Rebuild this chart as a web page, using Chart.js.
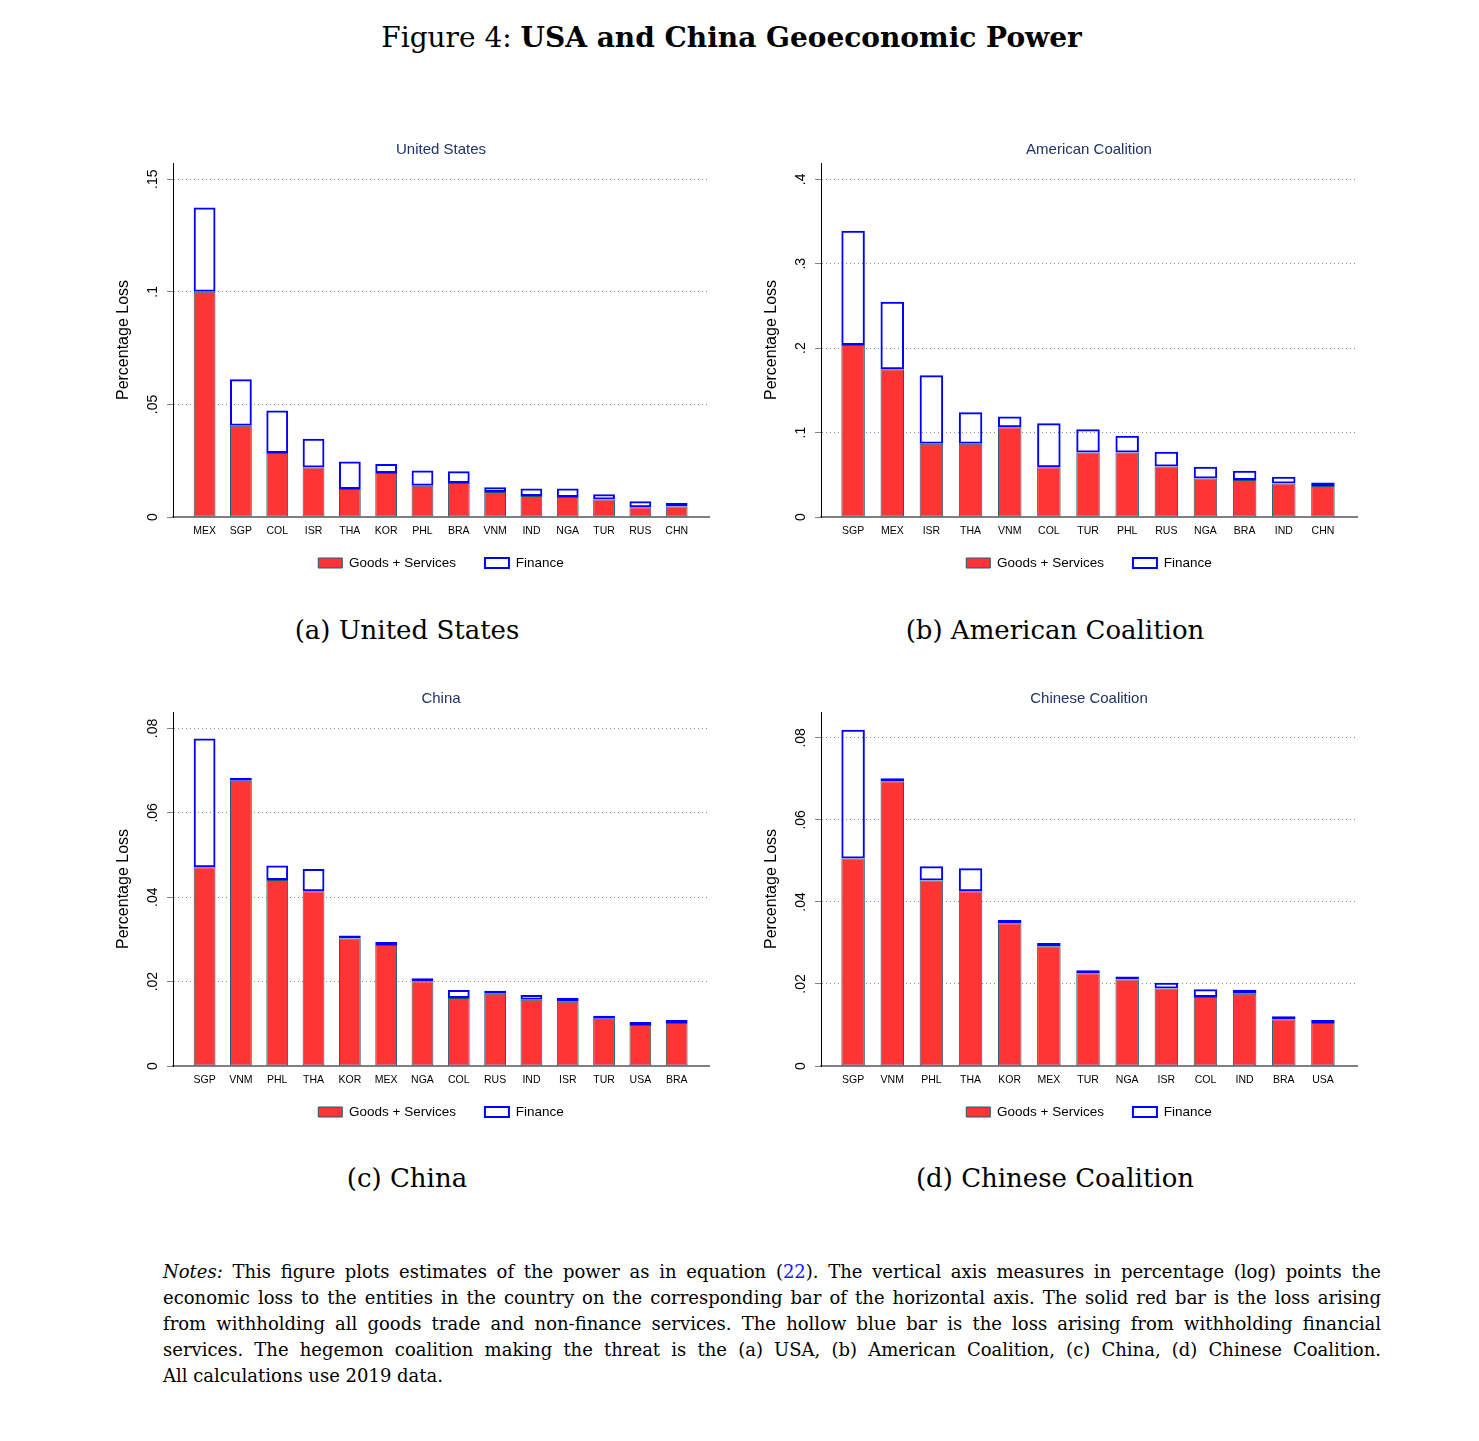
<!DOCTYPE html>
<html>
<head>
<meta charset="utf-8">
<title>USA and China Geoeconomic Power</title>
<script src="https://cdn.jsdelivr.net/npm/chart.js@4.4.1/dist/chart.umd.min.js"></script>
<style>
  body { margin: 0; background: #fff; }
  #page { position: relative; width: 1479px; height: 1441px; overflow: hidden; }
  .serif { position: absolute; font-family: "DejaVu Serif", serif; color: #000; }
  #figTitle { top: 19px; left: -8px; width: 1479px; text-align: center; font-size: 28px; line-height: 38px; }
  .cap { width: 600px; text-align: center; font-size: 26px; line-height: 34px; }
  canvas { position: absolute; }
  #notes { left: 163px; top: 1259px; width: 1218px; font-size: 18px; line-height: 26px; }
  #notes div { text-align: justify; text-align-last: justify; }
  #notes div.last { text-align-last: left; }
  #notes .ref { color: #1a1aff; }
</style>
</head>
<body>
<div id="page">
  <div id="figTitle" class="serif">Figure 4: <b>USA and China Geoeconomic Power</b></div>

  <canvas id="chartA" width="682" height="455" style="left:100px; top:135px;"></canvas>
  <canvas id="chartB" width="682" height="455" style="left:748px; top:135px;"></canvas>
  <canvas id="chartC" width="682" height="455" style="left:100px; top:684px;"></canvas>
  <canvas id="chartD" width="682" height="455" style="left:748px; top:684px;"></canvas>

  <div class="serif cap" style="left:107px; top:613px;">(a) United States</div>
  <div class="serif cap" style="left:755px; top:613px;">(b) American Coalition</div>
  <div class="serif cap" style="left:107px; top:1161px;">(c) China</div>
  <div class="serif cap" style="left:755px; top:1161px;">(d) Chinese Coalition</div>

  <div id="notes" class="serif">
    <div><i>Notes:</i> This figure plots estimates of the power as in equation (<span class="ref">22</span>). The vertical axis measures in percentage (log) points the</div>
    <div>economic loss to the entities in the country on the corresponding bar of the horizontal axis. The solid red bar is the loss arising</div>
    <div>from withholding all goods trade and non-finance services. The hollow blue bar is the loss arising from withholding financial</div>
    <div>services. The hegemon coalition making the threat is the (a) USA, (b) American Coalition, (c) China, (d) Chinese Coalition.</div>
    <div class="last">All calculations use 2019 data.</div>
  </div>
</div>

<script>
// (a) United States
const catsA = ["MEX", "SGP", "COL", "ISR", "THA", "KOR", "PHL", "BRA", "VNM", "IND", "NGA", "TUR", "RUS", "CHN"];
const goodsA = [0.1000, 0.0405, 0.0284, 0.0220, 0.0124, 0.0195, 0.0139, 0.0151, 0.0111, 0.0093, 0.0089, 0.0078, 0.0043, 0.0047];
const financeA = [0.0374, 0.0207, 0.0189, 0.0128, 0.0123, 0.0040, 0.0068, 0.0052, 0.0021, 0.0034, 0.0038, 0.0023, 0.0027, 0.0015];
const yTicksA = [0, 0.05, 0.1, 0.15];
const yLabelsA = ["0", ".05", ".1", ".15"];

// (b) American Coalition
const catsB = ["SGP", "MEX", "ISR", "THA", "VNM", "COL", "TUR", "PHL", "RUS", "NGA", "BRA", "IND", "CHN"];
const goodsB = [0.2037, 0.1750, 0.0867, 0.0867, 0.1064, 0.0590, 0.0764, 0.0764, 0.0599, 0.0457, 0.0437, 0.0398, 0.0366];
const financeB = [0.1353, 0.0800, 0.0813, 0.0373, 0.0126, 0.0520, 0.0276, 0.0197, 0.0173, 0.0138, 0.0111, 0.0079, 0.0044];
const yTicksB = [0, 0.1, 0.2, 0.3, 0.4];
const yLabelsB = ["0", ".1", ".2", ".3", ".4"];

// (c) China
const catsC = ["SGP", "VNM", "PHL", "THA", "KOR", "MEX", "NGA", "COL", "RUS", "IND", "ISR", "TUR", "USA", "BRA"];
const goodsC = [0.0471, 0.0676, 0.0441, 0.0414, 0.0302, 0.0287, 0.0201, 0.0161, 0.0171, 0.0157, 0.0152, 0.0112, 0.0097, 0.0102];
const financeC = [0.0305, 0.0004, 0.0034, 0.0053, 0.0007, 0.0006, 0.0004, 0.0019, 0.0005, 0.0011, 0.0010, 0.0003, 0.0007, 0.0006];
const yTicksC = [0, 0.02, 0.04, 0.06, 0.08];
const yLabelsC = ["0", ".02", ".04", ".06", ".08"];

// (d) Chinese Coalition
const catsD = ["SGP", "VNM", "PHL", "THA", "KOR", "MEX", "TUR", "NGA", "ISR", "COL", "IND", "BRA", "USA"];
const goodsD = [0.0506, 0.0694, 0.0452, 0.0426, 0.0348, 0.0292, 0.0226, 0.0211, 0.0189, 0.0168, 0.0176, 0.0114, 0.0105];
const financeD = [0.0314, 0.0003, 0.0035, 0.0056, 0.0008, 0.0008, 0.0006, 0.0005, 0.0014, 0.0019, 0.0010, 0.0007, 0.0004];
const yTicksD = [0, 0.02, 0.04, 0.06, 0.08];
const yLabelsD = ["0", ".02", ".04", ".06", ".08"];

const RED = "#ff3535";
const OUTLINE = "#1d5a78";
const BLUE = "#0000ff";
const NAVY = "#1f3366";
const SANS = '"Liberation Sans", Arial, sans-serif';

Chart.defaults.font.family = SANS;
Chart.defaults.color = "#000";

// legend sits closer to the axis labels than its item gap would give
const legendShift = {
  id: "legendShift",
  afterLayout: (chart) => {
    chart.legend.top -= 10.25;
    chart.legend.bottom -= 10.25;
  },
};

const makePanel = (canvasId, title, cats, goods, finance, yTicks, yLabels, yMax, xMin, xMax, tickPad) => {
  const ctx = document.getElementById(canvasId).getContext("2d");
  return new Chart(ctx, {
    type: "bar",
    data: {
      datasets: [
        {
          label: "Goods + Services",
          data: goods.map((v, i) => ({ x: i, y: v })),
          backgroundColor: RED,
          borderColor: OUTLINE,
          borderWidth: 1,
          borderSkipped: false,
          categoryPercentage: 1,
          barPercentage: 0.6,
        },
        {
          label: "Finance",
          data: finance.map((v, i) => ({ x: i, y: v })),
          backgroundColor: "rgba(255,255,255,0)",
          borderColor: BLUE,
          borderWidth: 2,
          borderSkipped: false,
          minBarLength: 3,
          categoryPercentage: 1,
          barPercentage: 0.6,
        },
      ],
    },
    plugins: [legendShift],
    options: {
      responsive: false,
      animation: false,
      layout: { padding: 0 },
      plugins: {
        title: {
          display: true,
          text: title,
          color: NAVY,
          font: { size: 15, weight: "normal" },
          padding: { top: 6, bottom: 4 },
        },
        legend: {
          position: "bottom",
          labels: { boxWidth: 24, boxHeight: 10, padding: 29, color: "#000", font: { size: 13.5 } },
        },
        tooltip: { enabled: false },
      },
      scales: {
        x: {
          type: "linear",
          stacked: true,
          min: xMin,
          max: xMax,
          offset: false,
          afterBuildTicks: (s) => { s.ticks = cats.map((c, i) => ({ value: i })); },
          afterFit: (s) => { s.height = 20.5; },
          grid: { display: false, drawTicks: false, offset: false },
          border: { display: true, color: "#808080", width: 2 },
          ticks: {
            autoSkip: false,
            maxRotation: 0,
            padding: 8,
            font: { size: 10.5 },
            callback: (v, i) => cats[i],
          },
        },
        y: {
          stacked: true,
          min: 0,
          max: yMax,
          afterBuildTicks: (s) => { s.ticks = yTicks.map((v) => ({ value: v })); },
          afterFit: (s) => { s.width = 73; },
          title: {
            display: true,
            text: "Percentage Loss",
            font: { size: 16 },
            padding: { top: 14.4, bottom: 0 },
          },
          grid: { color: "#8c8c8c", lineWidth: 1, tickLength: 6, tickColor: "#808080", tickWidth: 1 },
          border: { display: true, color: "#000", width: 1, dash: [1, 3] },
          ticks: {
            minRotation: 90,
            maxRotation: 90,
            crossAlign: "center",
            padding: tickPad,
            font: { size: 14 },
            callback: (v, i) => yLabels[i],
          },
        },
        // empty right axis so title and legend centre on the plot area
        yR: {
          position: "right",
          afterFit: (s) => { s.width = 73; },
          grid: { display: false, drawTicks: false },
          border: { display: false },
          ticks: { display: false },
        },
      },
    },
  });
};

makePanel("chartA", "United States", catsA, goodsA, financeA, yTicksA, yLabelsA, 0.1572, -0.87, 13.89, 4.3);
makePanel("chartB", "American Coalition", catsB, goodsB, financeB, yTicksB, yLabelsB, 0.4193, -0.82, 12.87, 8.2);
makePanel("chartC", "China", catsC, goodsC, financeC, yTicksC, yLabelsC, 0.0839, -0.87, 13.89, 4.3);
makePanel("chartD", "Chinese Coalition", catsD, goodsD, financeD, yTicksD, yLabelsD, 0.0863, -0.82, 12.87, 4.3);
</script>
</body>
</html>
